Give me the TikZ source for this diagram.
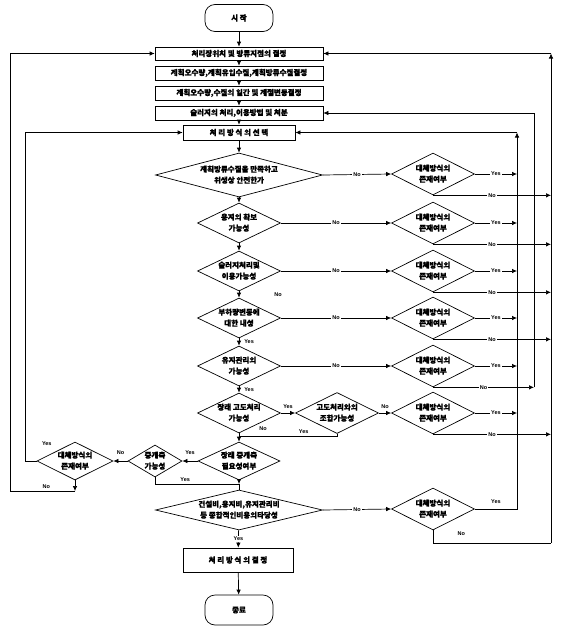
\documentclass[tikz,border=0pt]{standalone}
\usepackage{fontspec}
\setmainfont{Liberation Sans}
\newfontfamily\kr[FakeBold=1]{Noto Sans CJK KR}
\usetikzlibrary{arrows.meta,shapes.geometric,positioning}

% two centred lines that do not widen the diamond
\newcommand\dtext[2]{\smash{\makebox[0pt]{\raisebox{-2pt}{%
  \begin{tabular}{@{}c@{}}#1\\#2\end{tabular}}}}}

\tikzset{
  kbox/.style={rectangle,draw,line width=0.7pt,inner sep=0pt,
    font=\kr\bfseries\fontsize{7.5}{11}\selectfont},
  term/.style={kbox,rounded corners=10pt,minimum width=68pt},
  dec/.style={diamond,draw,line width=0.7pt,inner sep=0pt,
    font=\kr\bfseries\fontsize{7.5}{11}\selectfont},
  altdec/.style={dec,minimum width=83pt,minimum height=42pt},
  lbl/.style={font=\bfseries\fontsize{5.5}{6}\selectfont,inner sep=1pt},
  flow/.style={line width=0.7pt,-{Latex[length=5pt,width=4.5pt]}},
  plain/.style={line width=0.7pt}
}

\begin{document}
\begin{tikzpicture}[x=1pt,y=-1pt]
\useasboundingbox (0,0) rectangle (562,629);

% Start and planning boxes
\node[term,minimum height=27pt] (start) at (239,18) {시 작};
\node[kbox,minimum width=168pt,minimum height=13pt] (site) at (239,53.5) {처리장위치 및 방류지점의 결정};
\node[kbox,minimum width=168pt,minimum height=14pt] (plan) at (239,73) {계획오수량,계획유입수질,계획방류수질결정};
\node[kbox,minimum width=168pt,minimum height=14pt] (vary) at (239,93) {계획오수량,수질의 일간 및 계절변동결정};
\node[kbox,minimum width=168pt,minimum height=14pt] (sludge) at (239,113) {슬러지의 처리,이용방법 및 처분};
\node[kbox,minimum width=112pt,minimum height=15pt] (choose) at (239,132.5) {처 리 방 식 의 선 택};

% Main decisions
\node[dec,minimum width=167pt,minimum height=44pt] (d1) at (239,175) {\dtext{계획방류수질을 만족하고}{위생상 안전한가}};
\node[dec,minimum width=83pt,minimum height=40pt] (d2) at (239,223) {\dtext{용지의 확보}{가능성}};
\node[dec,minimum width=83pt,minimum height=40pt] (d3) at (239,271) {\dtext{슬러지처리및}{이용가능성}};
\node[dec,minimum width=83pt,minimum height=40pt] (d4) at (239,318) {\dtext{부하량변동에}{대한 내성}};
\node[dec,minimum width=83pt,minimum height=40pt] (d5) at (239,366) {\dtext{유지관리의}{가능성}};
\node[dec,minimum width=83pt,minimum height=40pt] (d6) at (239,413) {\dtext{장래 고도처리}{가능성}};
\node[dec,minimum width=83pt,minimum height=41pt] (comb) at (337,413) {\dtext{고도처리와의}{조합가능성}};
\node[dec,minimum width=82pt,minimum height=38pt] (d7) at (239,461) {\dtext{장래 증개축}{필요성여부}};
\node[dec,minimum width=54pt,minimum height=32pt] (expand) at (155,461) {\dtext{증개축}{가능성}};
\node[dec,minimum width=76pt,minimum height=38pt] (altL) at (75,461) {\dtext{대체방식의}{존재여부}};
\node[dec,minimum width=167pt,minimum height=40pt] (d8) at (239,510) {\dtext{건설비,용지비,유지관리비}{등 종합적인비용의타당성}};

% End
\node[kbox,minimum width=110pt,minimum height=24pt] (fix) at (238,560) {처 리 방 식 의 결 정};
\node[term,minimum height=30pt] (stop) at (239,610) {종료};

% Alternatives
\foreach \i/\y in {1/174,2/223,3/271,4/318,5/366,6/413,8/509}
  \node[altdec] (alt\i) at (433,\y) {\dtext{대체방식의}{존재여부}};

% Return lines
\coordinate (rtA) at (517,132.5);
\coordinate (rtB) at (534,113);
\coordinate (rtC) at (551,53.5);
\coordinate (rtCb) at (551,543);
\coordinate (lfA) at (10,53.5);
\coordinate (lfAb) at (75,491);
\coordinate (lfB) at (25,132.5);
\coordinate (jc) at (239,436);
\coordinate (jn) at (239,484);

% Main flow
\draw[flow] (start) -- (site);
\draw[flow] (site) -- (plan);
\draw[flow] (plan) -- (vary);
\draw[flow] (vary) -- (sludge);
\draw[flow] (sludge) -- (choose);
\draw[flow] (choose) -- (d1);
\draw[flow] (d1) -- (d2);
\draw[flow] (d2) -- (d3);
\draw[flow] (d3) -- node[lbl,xshift=39pt]{No} (d4);
\draw[flow] (d4) -- node[lbl,right=4pt]{Yes} (d5);
\draw[flow] (d5) -- node[lbl,right=4pt]{Yes} (d6);
\draw[flow] (d6) -- node[lbl,at start,xshift=24pt,yshift=5pt]{No} (d7);
\draw[flow] (d7) -- (jn);
\draw[plain] (jn) -- (d8);
\draw[flow] (d8) -- node[lbl,fill=white]{Yes} (fix);
\draw[flow] (fix) -- (stop);

% No branches to alternatives
\foreach \i in {1,...,5}
  \draw[flow] (d\i.east) -- node[lbl,fill=white]{No} (alt\i.west);
\draw[flow] (d8.east) -- node[lbl,fill=white]{No} (alt8.west);
\draw[flow] (d6.east) -- node[lbl,above=3pt]{Yes} (comb.west);
\draw[flow] (comb.east) -- node[lbl,above=3pt]{No} (alt6.west);
\draw[plain] (comb.south) |- node[lbl,pos=0.67,above=1pt]{Yes} (jc);

% Alternatives back to the top
\foreach \i in {1,...,6}
  \draw[flow] (alt\i.east) -- node[lbl,fill=white]{Yes} (alt\i.east -| rtA);
\foreach \i in {1,2,3,4,6}
  \draw[flow] (alt\i.south) -- node[lbl,fill=white]{No} (alt\i.south -| rtC);
\draw[flow] (alt5.south) -- node[lbl,fill=white]{No} (alt5.south -| rtB);
\draw[flow] (alt8.east) -- node[lbl,above=4pt]{Yes} (alt8.east -| rtA) -- (rtA);
\draw[flow] (rtA) -- (choose);
\draw[plain] (alt5.south -| rtB) -- (rtB);
\draw[flow] (rtB) -- (sludge);
\draw[plain] (alt8.south) |- node[lbl,pos=0.62,above=6pt]{No} (rtCb);
\draw[flow] (rtCb) -- (rtC);
\draw[flow] (rtC) -- (site);

% Expansion branch
\draw[flow] (d7.west) -- node[lbl,above=5pt]{Yes} (expand.east);
\draw[flow] (expand.west) -- node[lbl,above=5pt]{No} (altL.east);
\draw[plain] (expand.south) |- node[lbl,pos=0.68,above=1pt]{Yes} (jn);
\draw[flow] (altL.west) -| node[lbl,at start,anchor=south west,xshift=4pt,yshift=14pt]{Yes} (lfB) -- (choose);
\draw[flow] (altL.south) -- (lfAb);
\draw[flow] (lfAb) -| node[lbl,pos=0.22,above=1pt]{No} (lfA) -- (site);
\end{tikzpicture}
\end{document}
